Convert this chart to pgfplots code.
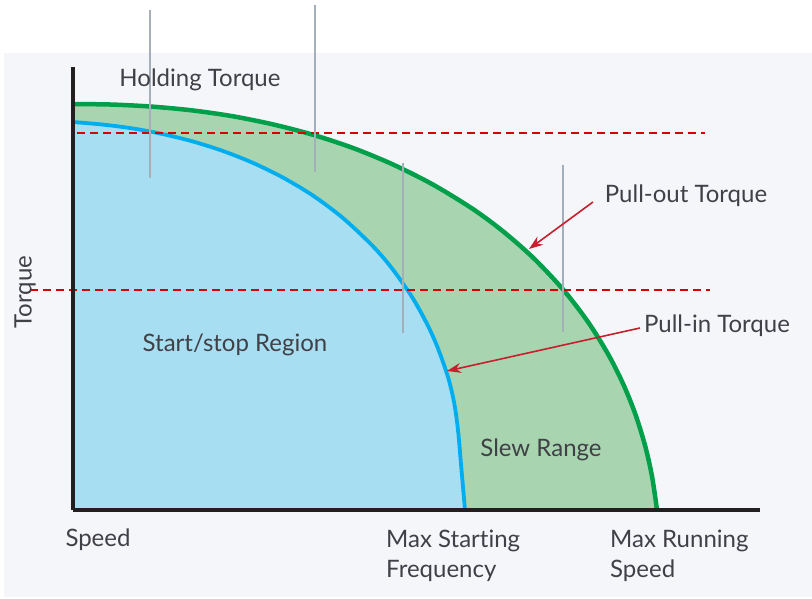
\documentclass[border=0pt]{standalone}
\usepackage{pgfplots}
\pgfplotsset{compat=1.18}
\usepackage{fontspec}
\setmainfont{Lato}[Ligatures=NoCommon]
\usetikzlibrary{arrows.meta}

\definecolor{panel}{RGB}{245,246,250}
\definecolor{slewfill}{RGB}{168,213,176}
\definecolor{startfill}{RGB}{167,222,242}
\definecolor{pulloutline}{RGB}{0,160,75}
\definecolor{pullinline}{RGB}{0,174,239}
\definecolor{refred}{RGB}{214,0,0}
\definecolor{arrowred}{RGB}{200,30,45}
\definecolor{guide}{RGB}{165,175,185}
\definecolor{txt}{RGB}{64,64,70}
\definecolor{axisblack}{RGB}{35,31,32}

\pgfplotstableread{
x     y
0     406
40    405.4
80    403.3
120   399.5
160   393.7
200   385.6
240   375.2
280   362.0
320   345.5
360   325.4
400   300.9
430   278.7
460   252.4
490   220.6
515   188.1
535   156.0
550   126.4
562   96.8
572   64.7
579   33.8
584   0
}\pullout

\pgfplotstableread{
x     y
0     388.0
30    385.4
60    381.5
90    375.9
120   368.5
150   359.0
180   347.1
210   332.4
240   314.4
270   291.9
300   263.7
320   240.3
340   211.4
355   184.1
365   161.5
375   133.0
381   108.0
385   80.0
388.5 40.0
392   0
}\pullin

\begin{document}
\begin{tikzpicture}[x=1pt,y=1pt,
  lbl/.style={font=\fontsize{24}{30}\selectfont, text=txt, inner sep=0pt}]
% page and grey panel
\fill[white] (0,0) rectangle (812,599);
\fill[panel] (4,2) rectangle (812,546);

\begin{axis}[
  at={(73pt,89pt)}, anchor=origin,
  scale only axis,
  width=687pt, height=443pt,
  xmin=0, xmax=687, ymin=0, ymax=443,
  axis lines=left,
  axis line style={line width=3.5pt, axisblack, -},
  xtick=\empty, ytick=\empty,
  axis on top,
  clip=false,
]

%% slew range under the pull-out curve, start/stop region under pull-in
\addplot[smooth, fill=slewfill, draw=none] table {\pullout} \closedcycle;
\addplot[smooth, fill=startfill, draw=none] table {\pullin} \closedcycle;

\addplot[smooth, line width=4.5pt, pulloutline] table {\pullout};
\addplot[smooth, line width=3.8pt, pullinline] table {\pullin};

%% reference lines
\draw[refred, line width=2pt, dash pattern=on 8pt off 5pt]
  (axis cs:4,377) -- (axis cs:632,377);
\draw[refred, line width=2pt, dash pattern=on 8pt off 5pt]
  (axis cs:-43,220) -- (axis cs:637,220);

\draw[guide, line width=2pt] (axis cs:77,500) -- (axis cs:77,332);
\draw[guide, line width=2pt] (axis cs:242,505) -- (axis cs:242,338);
\draw[guide, line width=2pt] (axis cs:330,347) -- (axis cs:330,177);
\draw[guide, line width=2pt] (axis cs:490,345) -- (axis cs:490,178);

%% arrows
\draw[arrowred, line width=1.6pt, -{Stealth[length=14pt,width=10pt]}]
  (axis cs:520,308) -- (axis cs:456,261);
\draw[arrowred, line width=1.6pt, -{Stealth[length=14pt,width=10pt]}]
  (axis cs:567,182) -- (axis cs:374,139);

%% labels
\node[lbl] at (axis cs:127,430) {Holding Torque};
\node[lbl] at (axis cs:613,314) {Pull-out Torque};
\node[lbl] at (axis cs:644,184) {Pull-in Torque};
\node[lbl] at (axis cs:162,165) {Start/stop Region};
\node[lbl] at (axis cs:468,60) {Slew Range};
\node[lbl] at (axis cs:25,-30) {Speed};
\node[lbl, anchor=west, align=left] at (axis cs:313,-46) {Max Starting\\Frequency};
\node[lbl, anchor=west, align=left] at (axis cs:537,-46) {Max Running\\Speed};
\node[lbl, rotate=90] at (axis cs:-48,218) {Torque};
\end{axis}
\end{tikzpicture}
\end{document}
